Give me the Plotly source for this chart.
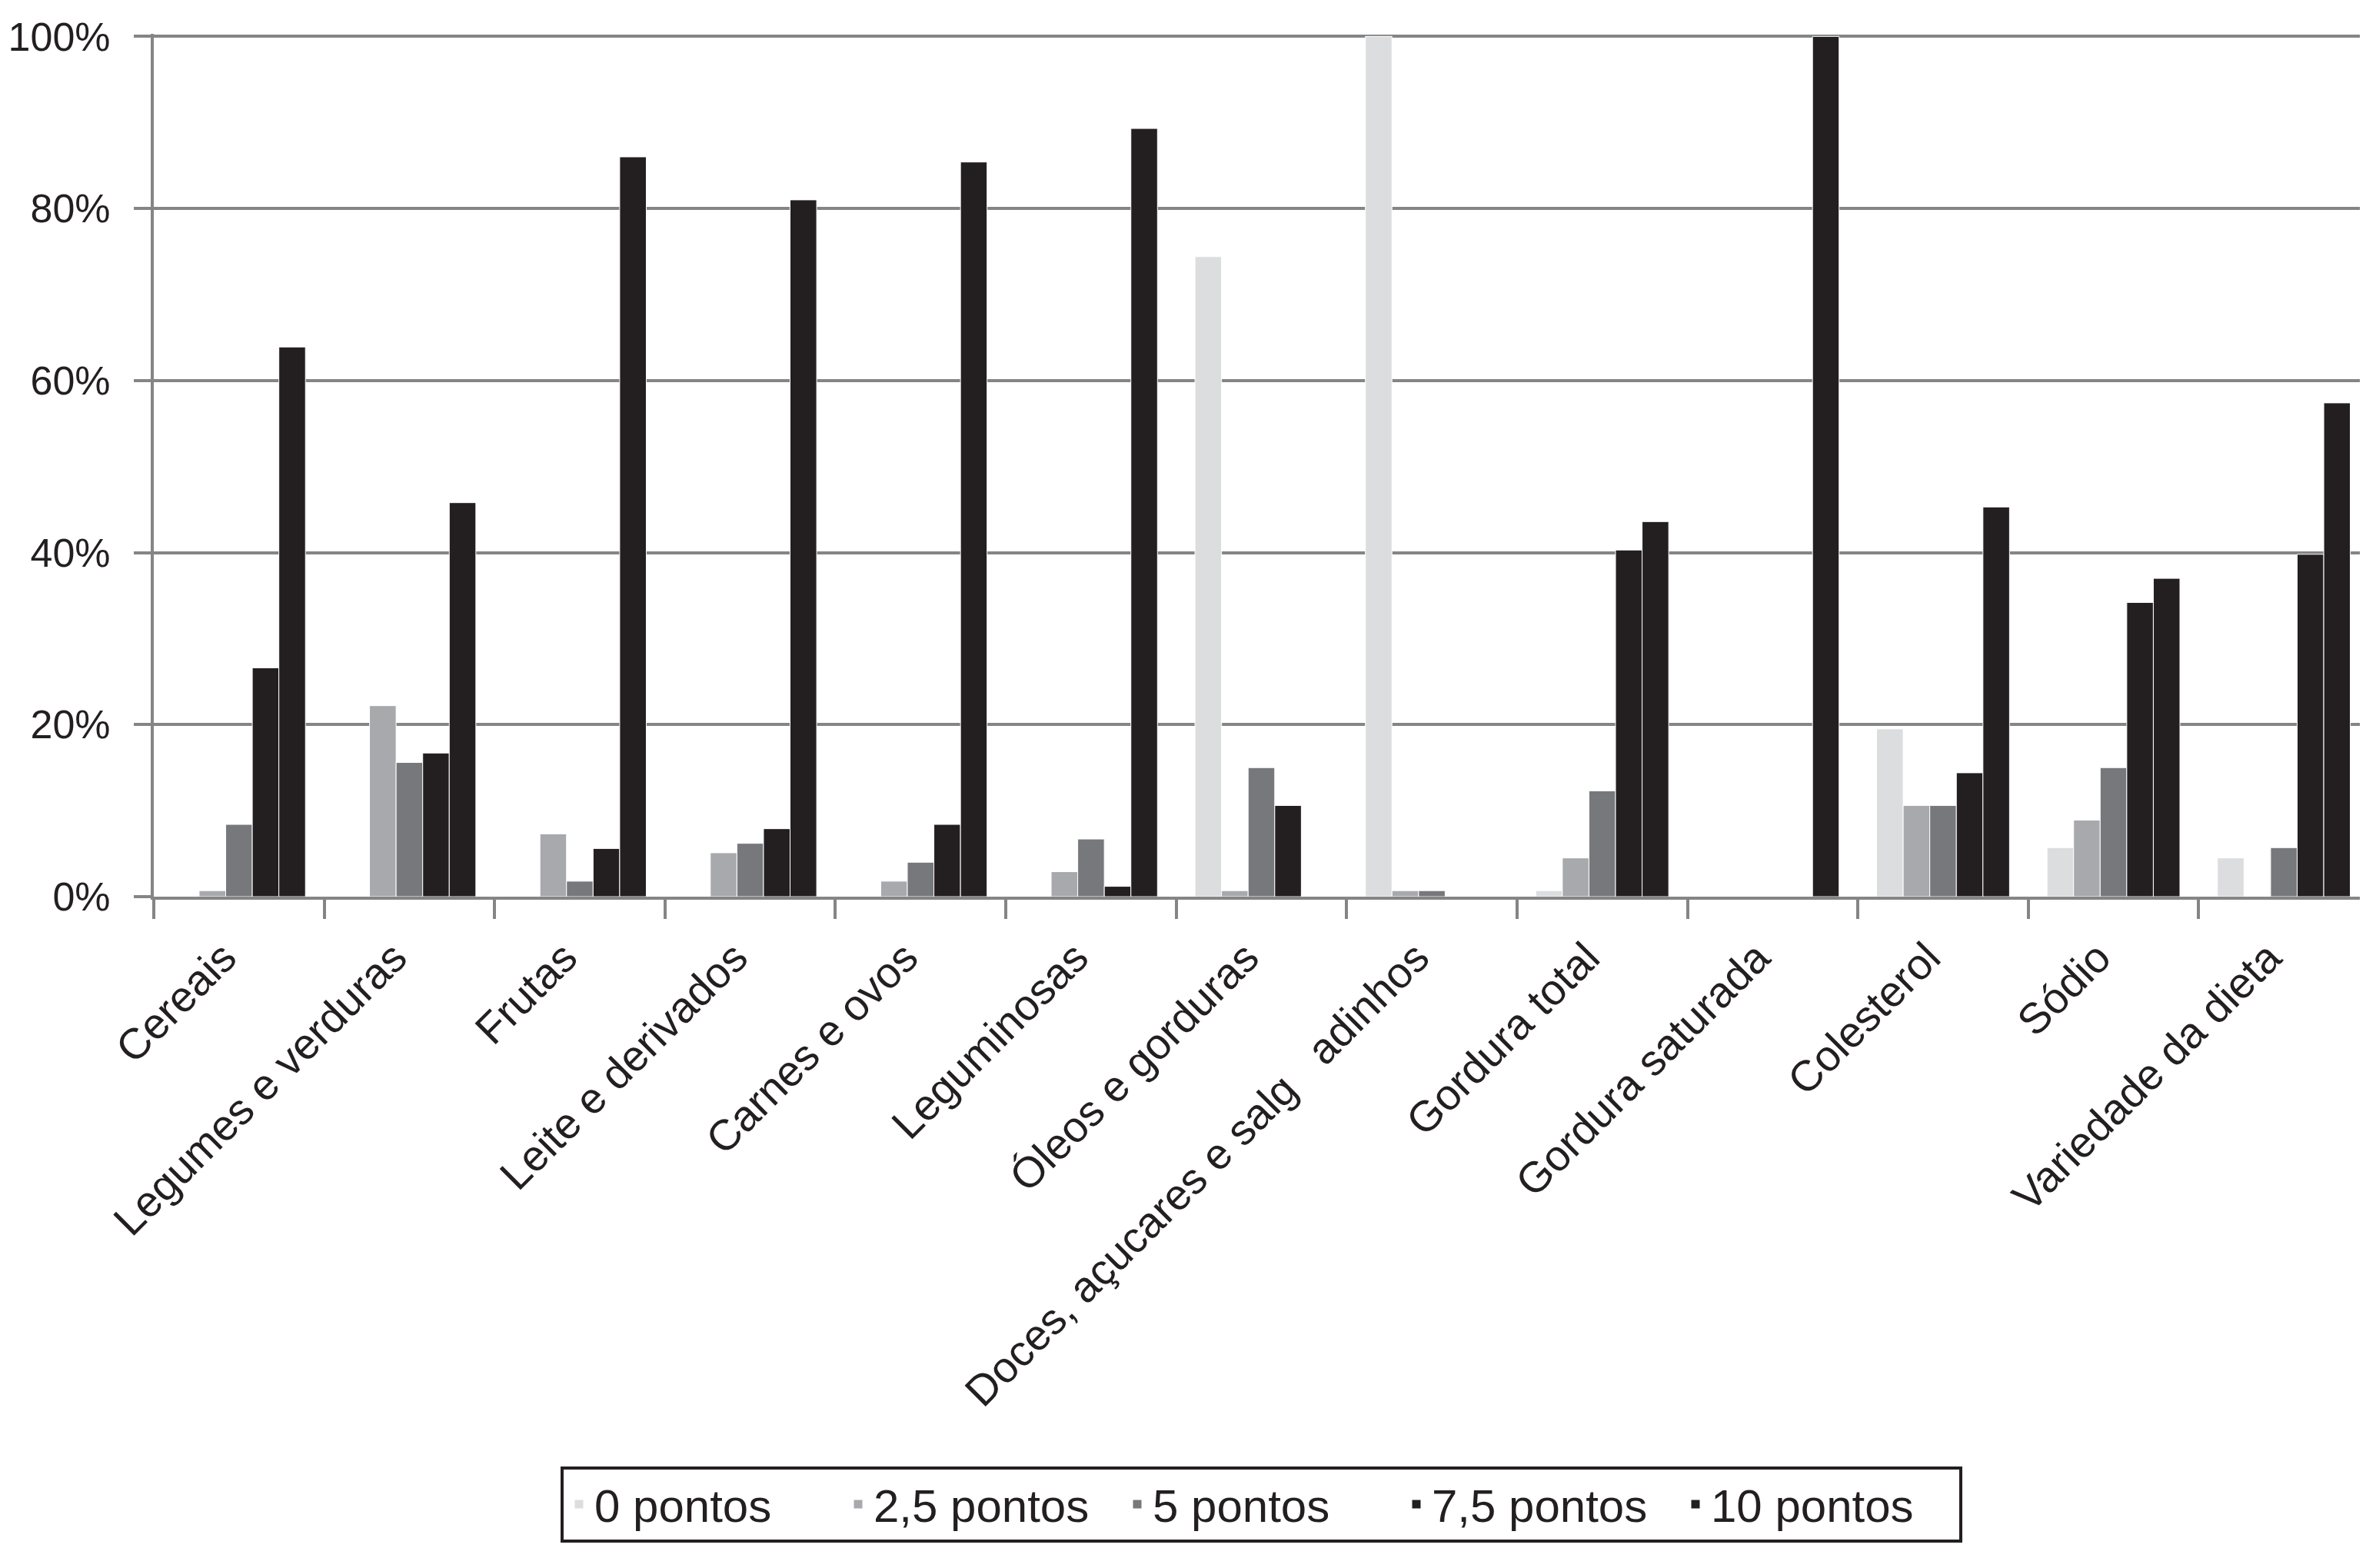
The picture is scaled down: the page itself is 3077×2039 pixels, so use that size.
import plotly.graph_objects as go

categories = [
    "Cereais", "Legumes e verduras", "Frutas", "Leite e derivados",
    "Carnes e ovos", "Leguminosas", "Óleos e gorduras",
    "Doces, açucares e salg\u00a0\u00a0\u00a0adinhos", "Gordura total",
    "Gordura saturada", "Colesterol", "Sódio", "Variedade da dieta",
]
series_names = ["0 pontos", "2,5 pontos", "5 pontos", "7,5 pontos", "10 pontos"]
pontos_0 = [0, 0, 0, 0, 0, 0, 74.4, 100, 0.7, 0, 19.5, 5.7, 4.5]
pontos_2_5 = [0.7, 22.2, 7.3, 5.1, 1.8, 2.9, 0.7, 0.7, 4.5, 0, 10.6, 8.9, 0]
pontos_5 = [8.4, 15.6, 1.8, 6.2, 4.0, 6.7, 15.0, 0.7, 12.3, 0, 10.6, 15.0, 5.7]
pontos_7_5 = [26.6, 16.7, 5.6, 7.9, 8.4, 1.2, 10.6, 0, 40.3, 0, 14.4, 34.2, 39.8]
pontos_10 = [63.9, 45.8, 86.0, 81.0, 85.4, 89.3, 0, 0, 43.6, 100, 45.3, 37.0, 57.4]
y_ticks = [0, 20, 40, 60, 80, 100]

series_values = [pontos_0, pontos_2_5, pontos_5, pontos_7_5, pontos_10]
colors = ["#dcdddf", "#a7a9ac", "#77787b", "#231f20", "#231f20"]

FONT = "Liberation Sans, Arial, Helvetica, sans-serif"
NARROW = "Liberation Sans Narrow, Arial Narrow, Liberation Sans, sans-serif"
GRID = "#858585"

fig = go.Figure()
for name, vals, col in zip(series_names, series_values, colors):
    fig.add_trace(go.Bar(
        x=categories, y=vals, name=name,
        marker=dict(color=col, line=dict(color="white", width=1)),
    ))

fig.update_layout(
    width=3077, height=2039,
    paper_bgcolor="white", plot_bgcolor="white",
    margin=dict(l=192, r=4, t=36, b=881, autoexpand=False),
    barmode="group", bargap=0.22, bargroupgap=0,
    font=dict(family=FONT, size=52, color="#231f20"),
    showlegend=True,
    legend=dict(
        orientation="h", x=0.5, xanchor="center", y=-0.66, yanchor="top",
        bordercolor="#231f20", borderwidth=4, bgcolor="white",
        font=dict(family=NARROW, size=60, color="#231f20"),
        entrywidth=318, entrywidthmode="pixels",
        traceorder="normal",
    ),
)

fig.update_xaxes(
    type="category", tickangle=-45,
    tickfont=dict(family=FONT, size=56, color="#231f20"),
    showline=True, linecolor=GRID, linewidth=4,
    ticks="outside", tickson="boundaries", ticklen=25, tickwidth=4, tickcolor=GRID,
    ticklabelstandoff=20, ticklabelshift=-20,
    showgrid=False,
)
fig.update_yaxes(
    range=[0, 100.3], tickvals=y_ticks, ticktext=[f"{v}%" for v in y_ticks],
    tickfont=dict(family=FONT, size=52, color="#231f20"),
    showgrid=True, gridcolor=GRID, gridwidth=4,
    showline=True, linecolor=GRID, linewidth=4,
    ticks="outside", ticklen=22, tickwidth=4, tickcolor=GRID,
    ticklabelstandoff=20, ticklabeloverflow="allow",
    zeroline=False,
)

fig.write_html("out.html")
